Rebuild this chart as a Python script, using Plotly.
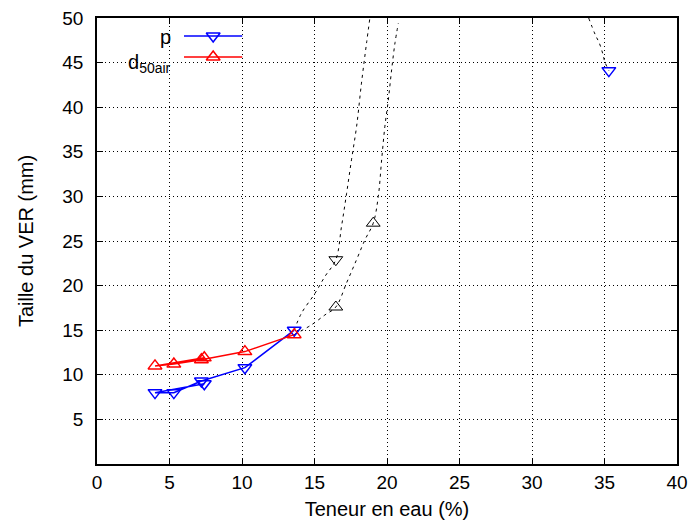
import plotly.graph_objects as go

# ---- data ----
p_x = [7.4, 4.0, 5.3, 7.2, 10.2, 13.6]
p_y = [9.0, 8.0, 8.0, 9.3, 10.8, 15.0]
d50_x = [7.4, 4.0, 5.3, 7.2, 10.2, 13.6]
d50_y = [11.9, 11.0, 11.2, 11.7, 12.6, 14.5]

p_far_x = [35.3]
p_far_y = [44.1]

# fitted (dashed) curves
p_fit_x = [13.6, 14.10, 15.02, 15.71, 16.47, 16.86, 17.21, 17.55, 17.90, 18.24, 18.59, 18.82]
p_fit_y = [15.0, 16.9, 19.1, 21.0, 22.9, 26.6, 30.3, 34.1, 37.8, 42.7, 47.2, 50.0]
p_fit2_x = [33.91, 34.37, 34.64, 34.88, 35.02, 35.3]
p_fit2_y = [50.0, 48.1, 47.2, 46.0, 45.1, 44.1]
d50_fit_x = [13.6, 14.79, 15.71, 16.47, 17.21, 17.90, 18.47, 19.05, 19.40, 19.63, 19.85, 20.09, 20.32, 20.55, 20.78]
d50_fit_y = [14.5, 15.6, 16.7, 17.6, 20.3, 22.9, 25.1, 27.0, 30.0, 34.1, 37.8, 40.8, 44.2, 47.2, 49.4]

p_fitpt_x = [16.47]
p_fitpt_y = [22.9]
d50_fitpt_x = [16.47, 19.05]
d50_fitpt_y = [17.6, 27.0]

x_ticks = [0, 5, 10, 15, 20, 25, 30, 35, 40]
y_ticks = [5, 10, 15, 20, 25, 30, 35, 40, 45, 50]

labels = ["p", "d<sub>50air</sub>"]

BLUE = "#0000ff"
RED = "#ff0000"
FONT = "Liberation Sans, Arial, sans-serif"
MS = 12

fig = go.Figure()

dash = "3px,4px"
for fx, fy in [(p_fit_x, p_fit_y), (p_fit2_x, p_fit2_y), (d50_fit_x, d50_fit_y)]:
    fig.add_trace(go.Scatter(x=fx, y=fy, mode="lines", line=dict(color="black", width=1, dash=dash, shape="spline"),
                             showlegend=False, hoverinfo="skip"))

fig.add_trace(go.Scatter(x=p_fitpt_x, y=p_fitpt_y, mode="markers",
                         marker=dict(symbol="triangle-down-open", size=MS, color="black", line=dict(width=1)),
                         showlegend=False))
fig.add_trace(go.Scatter(x=d50_fitpt_x, y=d50_fitpt_y, mode="markers",
                         marker=dict(symbol="triangle-up-open", size=MS, color="black", line=dict(width=1)),
                         showlegend=False))

fig.add_trace(go.Scatter(x=p_x, y=p_y, mode="lines+markers", line=dict(color=BLUE, width=1.5),
                         marker=dict(symbol="triangle-down-open", size=MS, color=BLUE, line=dict(width=1.5)),
                         showlegend=False))
fig.add_trace(go.Scatter(x=d50_x, y=d50_y, mode="lines+markers", line=dict(color=RED, width=1.5),
                         marker=dict(symbol="triangle-up-open", size=MS, color=RED, line=dict(width=1.5)),
                         showlegend=False))
fig.add_trace(go.Scatter(x=p_far_x, y=p_far_y, mode="markers",
                         marker=dict(symbol="triangle-down-open", size=MS, color=BLUE, line=dict(width=1.5)),
                         showlegend=False))

# ---- gnuplot-style key drawn on an invisible overlay axis (paper fractions) ----
key_x0, key_x1, key_xm = 0.150, 0.2504, 0.2003
key_rows = [0.9596, 0.9126]
key_styles = [(BLUE, "triangle-down-open"), (RED, "triangle-up-open")]
for yrow, (col, sym) in zip(key_rows, key_styles):
    fig.add_trace(go.Scatter(x=[key_x0, key_x1], y=[yrow, yrow], mode="lines", line=dict(color=col, width=1.5),
                             xaxis="x2", yaxis="y2", showlegend=False, hoverinfo="skip"))
    fig.add_trace(go.Scatter(x=[key_xm], y=[yrow], mode="markers",
                             marker=dict(symbol=sym, size=MS, color=col, line=dict(width=1.5)),
                             xaxis="x2", yaxis="y2", showlegend=False, hoverinfo="skip"))

annotations = [
    dict(text=labels[0], xref="paper", yref="paper", x=0.131, y=key_rows[0] - 0.002, xanchor="right", yanchor="middle",
         showarrow=False, font=dict(family=FONT, size=20, color="black")),
    dict(text=labels[1], xref="paper", yref="paper", x=0.131, y=key_rows[1] - 0.014, xanchor="right", yanchor="middle",
         showarrow=False, font=dict(family=FONT, size=20, color="black")),
]

axis_common = dict(showline=True, linecolor="black", linewidth=1.5, mirror="ticks", ticks="inside", ticklen=6,
                   tickwidth=1, tickcolor="black", showgrid=True, gridcolor="black", gridwidth=1, griddash="1px,3px",
                   zeroline=False, automargin=False, tickfont=dict(family=FONT, size=19, color="black"))

fig.update_layout(
    width=690, height=521,
    margin=dict(l=97, r=13, t=18, b=57, autoexpand=False),
    paper_bgcolor="white", plot_bgcolor="rgba(0,0,0,0)",
    font=dict(family=FONT, size=20, color="black"),
    xaxis=dict(range=[0, 40], tickvals=x_ticks, ticktext=[str(v) for v in x_ticks],
               title=dict(text="Teneur en eau (%)", font=dict(family=FONT, size=20), standoff=10),
               **axis_common),
    yaxis=dict(range=[0, 50], tickvals=y_ticks, ticktext=[str(v) for v in y_ticks], ticklabelstandoff=8,
               title=dict(text="Taille du VER (mm)", font=dict(family=FONT, size=20), standoff=23),
               **axis_common),
    xaxis2=dict(range=[0, 1], overlaying="x", anchor="y2", visible=False, fixedrange=True),
    yaxis2=dict(range=[0, 1], overlaying="y", anchor="x2", visible=False, fixedrange=True),
    shapes=[dict(type="rect", xref="paper", yref="paper", x0=0.0155, x1=0.269, y0=0.879, y1=0.993,
                 fillcolor="white", line=dict(width=0), layer="between")],
    annotations=annotations,
    showlegend=False,
)

fig.write_html("out.html", config={"displayModeBar": False},
               post_script="document.body.style.margin='0';document.body.style.padding='0';")
